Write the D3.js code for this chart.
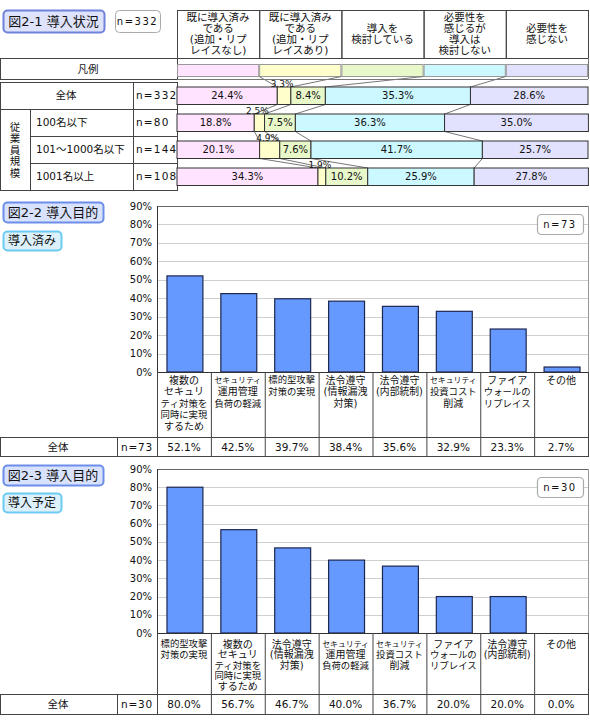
<!DOCTYPE html>
<html><head><meta charset="utf-8">
<script src="https://cdn.jsdelivr.net/npm/d3@7"></script>
<style>
body{margin:0;background:#fff}
svg{display:block}
text{font-family:"DejaVu Sans","Noto Sans CJK JP",sans-serif;fill:#111}
</style>
</head><body><script>
// ---------- DATA ----------
const statusCategories = ["既に導入済みである（追加・リプレイスなし）","既に導入済みである（追加・リプレイスあり）","導入を検討している","必要性を感じるが導入は検討しない","必要性を感じない"];
const statusHeaderLines = [["既に導入済み","である","(追加・リプ","レイスなし)"],["既に導入済み","である","(追加・リプ","レイスあり)"],["導入を","検討している"],["必要性を","感じるが","導入は","検討しない"],["必要性を","感じない"]];
const statusRows = ["全体","100名以下","101～1000名以下","1001名以上"];
const statusN = ["n=332","n=80","n=144","n=108"];
const statusAll = [24.4,3.3,8.4,35.3,28.6];
const status100 = [18.8,2.5,7.5,36.3,35.0];
const status1000 = [20.1,4.9,7.6,41.7,25.7];
const status1001 = [34.3,1.9,10.2,25.9,27.8];
const statusGroupLabel = "従業員規模";

const yTicks = [0,10,20,30,40,50,60,70,80,90];

const doneCategories = [["複数の","セキュリ","ティ対策を","同時に実現","するため"],["セキュリティ","運用管理","負荷の軽減"],["標的型攻撃","対策の実現"],["法令遵守","(情報漏洩","対策)"],["法令遵守","(内部統制)"],["セキュリティ","投資コスト","削減"],["ファイア","ウォールの","リプレイス"],["その他"]];
const doneValues = [52.1,42.5,39.7,38.4,35.6,32.9,23.3,2.7];
const doneN = "n=73";

const planCategories = [["標的型攻撃","対策の実現"],["複数の","セキュリ","ティ対策を","同時に実現","するため"],["法令遵守","(情報漏洩","対策)"],["セキュリティ","運用管理","負荷の軽減"],["セキュリティ","投資コスト","削減"],["ファイア","ウォールの","リプレイス"],["法令遵守","(内部統制)"],["その他"]];
const planValues = [80.0,56.7,46.7,40.0,36.7,20.0,20.0,0.0];
const planN = "n=30";

// ---------- STYLE ----------
const segColors = ["#FFE3FF","#FFFFCC","#E8F8C8","#CCF8FF","#E2E2FF"];
const lineCol = "#444";

const W=590,H=728;
const svg=d3.select("body").append("svg").attr("width",W).attr("height",H);
svg.append("rect").attr("width",W).attr("height",H).attr("fill","#fff");

function box(x,y,w,h,text,fill,stroke,fs,sw,ls){
  svg.append("rect").attr("x",x+0.5).attr("y",y+0.5).attr("width",w).attr("height",h)
    .attr("rx",4).attr("fill",fill).attr("stroke",stroke).attr("stroke-width",sw||1.5);
  svg.append("text").attr("x",x+w/2).attr("y",y+h/2+0.5).attr("dy","0.36em")
    .attr("text-anchor","middle").attr("font-size",fs).attr("letter-spacing",ls||0).text(text);
}
function cell(x,y,w,h){
  svg.append("rect").attr("x",x+0.5).attr("y",y+0.5).attr("width",w).attr("height",h)
    .attr("fill","none").attr("stroke",lineCol).attr("stroke-width",1);
}
function hline(x1,x2,y,c){svg.append("line").attr("x1",x1).attr("x2",x2).attr("y1",y+0.5).attr("y2",y+0.5).attr("stroke",c||lineCol);}
function vline(x,y1,y2,c){svg.append("line").attr("x1",x+0.5).attr("x2",x+0.5).attr("y1",y1).attr("y2",y2).attr("stroke",c||lineCol);}
function fitText(sel,maxW,fs){
  sel.each(function(){const l=this.getComputedTextLength(); if(l>maxW){d3.select(this).attr("font-size",fs*maxW/l);}});
}

// ============ SECTION 1 ============
box(3,10,101,22,"図2-1 導入状況","#DEE2FB","#6F82DC",13,2);
box(115,10,45,22,"n=332","#fff","#aaa",10,1,1.5);

const hdr = d3.scaleBand().domain(statusCategories).range([177,588]);
const s1x = d3.scaleLinear().domain([0,100]).range([177,588]);
const rowY = d3.scaleBand().domain(statusRows).range([82,190]);
const barTop = r => rowY(r)+5, barH = 17.5;

statusCategories.forEach((c,i)=>{
  cell(hdr(c),10,hdr.bandwidth(),48);
  const lines=statusHeaderLines[i];
  lines.forEach((t,j)=>{
    svg.append("text").attr("x",hdr(c)+hdr.bandwidth()/2).attr("y",34+(j-(lines.length-1)/2)*11)
      .attr("dy","0.36em").attr("text-anchor","middle").attr("font-size",10.5).text(t);
  });
});
// legend row
cell(0,58,177,21);
svg.append("text").attr("x",88).attr("y",69).attr("dy","0.36em").attr("text-anchor","middle").attr("font-size",10.5).text("凡例");
hline(177,588,79,"#777");
vline(588,58,79,"#777");
statusCategories.forEach((c,i)=>{
  svg.append("rect").attr("x",hdr(c)+0.5).attr("y",64.5).attr("width",hdr.bandwidth()-1).attr("height",12)
    .attr("fill",segColors[i]).attr("stroke","#999");
});

// left table
statusRows.forEach((r,i)=>{
  const y=rowY(r), h=rowY.bandwidth();
  if(i===0){
    cell(0,y,133,h);
    svg.append("text").attr("x",66).attr("y",y+h/2).attr("dy","0.36em").attr("text-anchor","middle").attr("font-size",10.5).text(r);
  } else {
    cell(30,y,103,h);
    svg.append("text").attr("x",36).attr("y",y+h/2).attr("dy","0.36em").attr("font-size",10.5).text(r);
  }
  cell(133,y,44,h);
  svg.append("text").attr("x",136).attr("y",y+h/2).attr("dy","0.36em").attr("font-size",10.5).attr("letter-spacing",1.2).text(statusN[i]);
});
cell(0,rowY(statusRows[1]),30,rowY.bandwidth()*3);
statusGroupLabel.split("").forEach((ch,j)=>{
  svg.append("text").attr("x",15).attr("y",150+(j-2)*11.5).attr("dy","0.36em").attr("text-anchor","middle").attr("font-size",10.5).text(ch);
});

// stacked bars
const statusTable = [statusAll,status100,status1000,status1001].map((v,i)=>{
  const o={row:statusRows[i]}; v.forEach((d,k)=>o["k"+k]=d); return o;});
const keys=statusCategories.map((c,k)=>"k"+k);
const stacked=d3.stack().keys(keys)(statusTable);

// connector lines
const connG=svg.append("g").attr("stroke","#777").attr("stroke-width",1);
for(let k=1;k<keys.length;k++){
  const cx=hdr(statusCategories[k]);
  connG.append("line").attr("x1",cx).attr("y1",76.5).attr("x2",s1x(stacked[k][0][0])).attr("y2",barTop(statusRows[0]));
  for(let i=0;i<statusRows.length-1;i++){
    connG.append("line").attr("x1",s1x(stacked[k][i][0])).attr("y1",barTop(statusRows[i])+barH)
      .attr("x2",s1x(stacked[k][i+1][0])).attr("y2",barTop(statusRows[i+1]));
  }
}
stacked.forEach((layer,k)=>{
  layer.forEach((d,i)=>{
    const r=statusRows[i];
    svg.append("rect").attr("x",s1x(d[0])).attr("y",barTop(r)).attr("width",s1x(d[1])-s1x(d[0])).attr("height",barH)
      .attr("fill",segColors[k]).attr("stroke","#333").attr("stroke-width",1);
  });
});
stacked.forEach((layer,k)=>{
  layer.forEach((d,i)=>{
    const r=statusRows[i], v=d[1]-d[0], cx=(s1x(d[0])+s1x(d[1]))/2;
    if(v>=5){
      svg.append("text").attr("x",cx).attr("y",barTop(r)+barH/2).attr("dy","0.36em").attr("text-anchor","middle").attr("font-size",10).text(d3.format(".1f")(v)+"%");
    } else {
      svg.append("text").attr("x",cx-2).attr("y",barTop(r)-0.5).attr("text-anchor","middle").attr("font-size",9).text(d3.format(".1f")(v)+"%");
    }
  });
});

// ============ PURPOSE CHARTS ============
function purpose(o){
  box(3,o.titleY,100,20,o.title,"#D8E2FC","#6C8EEA",13,2);
  box(3,o.subY,58,19,o.sub,"#DDF1FD","#6CCBF0",12,2);
  const x=d3.scaleBand().domain(o.cats.map((c,i)=>i)).range([157,588]);
  const y=d3.scaleLinear().domain([0,90]).range([o.y0,o.y90]);
  // grid
  yTicks.filter(t=>t>0&&t<90).forEach(t=>hline(157,588,Math.round(y(t)),"#cfcfcf"));
  hline(157,588,Math.round(y(90)),"#666");
  vline(588,y(90),o.y0,"#999");
  vline(157,y(90),o.y0,"#333");
  yTicks.forEach(t=>{
    svg.append("text").attr("x",152).attr("y",y(t)).attr("dy","0.36em").attr("text-anchor","end").attr("font-size",10).text(t+"%");
  });
  box(537,o.nY,46,20,o.n,"#fff","#aaa",10,1.2,1.5);
  const bw=x.bandwidth();
  o.values.forEach((v,i)=>{
    if(v<=0) return;
    svg.append("rect").attr("x",x(i)+bw*0.185).attr("y",y(v)).attr("width",bw*0.667).attr("height",o.y0-y(v))
      .attr("fill","#6699FF").attr("stroke","#1c2650").attr("stroke-width",1.2);
  });
  // category table
  hline(157,588,o.y0,"#333");
  o.cats.forEach((c,i)=>{
    vline(x(i),o.y0,o.rowTop+o.rowH+1);
    c.forEach((t,j)=>{
      svg.append("text").attr("x",x(i)+bw/2).attr("y",o.y0+o.labTop+j*o.labStep).attr("dy","0.36em")
        .attr("text-anchor","middle").attr("font-size",10).text(t).call(fitText,bw-7,10);
    });
  });
  vline(588,o.y0,o.rowTop+o.rowH+1);
  cell(0,o.rowTop,588,o.rowH);
  vline(117,o.rowTop,o.rowTop+o.rowH);
  vline(157,o.rowTop,o.rowTop+o.rowH);
  svg.append("text").attr("x",58).attr("y",o.rowTop+o.rowH/2+0.5).attr("dy","0.36em").attr("text-anchor","middle").attr("font-size",10.5).text("全体");
  svg.append("text").attr("x",121).attr("y",o.rowTop+o.rowH/2+0.5).attr("dy","0.36em").attr("font-size",10.5).attr("letter-spacing",0.8).text(o.n);
  o.values.forEach((v,i)=>{
    svg.append("text").attr("x",x(i)+bw/2).attr("y",o.rowTop+o.rowH/2+0.5).attr("dy","0.36em").attr("text-anchor","middle").attr("font-size",10.5).text(d3.format(".1f")(v)+"%");
  });
}

purpose({title:"図2-2 導入目的",sub:"導入済み",titleY:202,subY:231,cats:doneCategories,values:doneValues,n:doneN,
  y0:372,y90:206,nY:214,rowTop:437,rowH:19,labTop:8,labStep:11.7});
purpose({title:"図2-3 導入目的",sub:"導入予定",titleY:465,subY:493,cats:planCategories,values:planValues,n:planN,
  y0:633,y90:469,nY:477,rowTop:694,rowH:20,labTop:11,labStep:10.7});
</script></body></html>
